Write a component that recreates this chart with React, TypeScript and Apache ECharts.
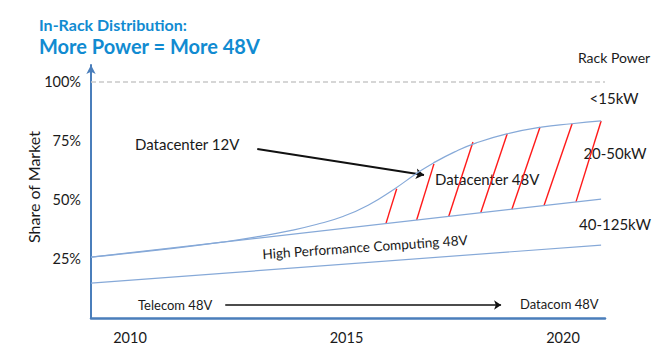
import React, { useEffect, useRef } from "react";
import * as echarts from "echarts";

// Boundary between Datacenter 12V and Datacenter 48V (share of market, %)
const topYears = [2009.1, 2011.0, 2012.2, 2013.0, 2013.7, 2014.3, 2014.9, 2015.5, 2016.1, 2016.6, 2017.0, 2017.5, 2018.0, 2018.7, 2019.5, 2020.2, 2020.88];
const topValues = [25.8, 29.5, 32.3, 34.6, 37.0, 39.6, 42.9, 47.8, 54.6, 61.0, 65.6, 70.4, 74.2, 78.0, 80.9, 82.3, 83.5];
// Boundary between Datacenter 48V and High Performance Computing 48V
const midYears = [2009.1, 2020.88];
const midValues = [25.8, 50.4];
// Boundary between HPC 48V and Telecom / Datacom 48V
const lowYears = [2009.1, 2020.88];
const lowValues = [14.8, 30.9];
// Red hatching of the Datacenter 48V band
const hatchBottomYears = [2015.91, 2016.62, 2017.36, 2018.1, 2018.82, 2019.56, 2020.3];
const hatchBottomValues = [40.0, 41.5, 43.0, 44.6, 46.1, 47.6, 49.2];
const hatchTopYears = [2016.16, 2017.02, 2017.92, 2018.71, 2019.47, 2020.21, 2020.88];
const hatchTopValues = [54.8, 65.3, 74.6, 78.0, 80.9, 82.3, 83.5];
// Arrows
const arrow12V = [[2012.94, 71.6], [2016.79, 60.6]];
const arrowTelecom = [[2012.2, 5.5], [2018.57, 5.5]];
// Axis labels
const xLabelYears = [2010, 2015, 2020];
const yTicks = [25, 50, 75, 100];

const FONT = "Lato";
const TEXT = "#1a1a1a";
const BLUE_TITLE = "#118bd1";

export default function App() {
  const ref = useRef<HTMLDivElement>(null);
  useEffect(() => {
    if (!ref.current) return;
    const chart = echarts.init(ref.current, undefined, { renderer: "svg" });
    const zip = (a: number[], b: number[]) => a.map((v, i) => [v, b[i]]);
    const curveStyle = { color: "#86a9d8", width: 1.2 };
    const txt = (text: string, x: number, y: number, size: number, extra: any = {}) => ({
      type: "text",
      x,
      y,
      style: {
        text,
        fontFamily: FONT,
        fontSize: size,
        fill: TEXT,
        textVerticalAlign: "middle",
        verticalAlign: "middle",
        ...extra.style,
      },
      ...extra.el,
    });
    chart.setOption({
      animation: false,
      grid: { left: 91, right: 61, top: 65, bottom: 34 },
      xAxis: {
        type: "value",
        min: 2009.1,
        max: 2020.97,
        axisLine: { show: true, lineStyle: { color: "#4a7ebb", width: 2.5 } },
        axisTick: { show: false },
        splitLine: { show: false },
        axisLabel: {
          customValues: xLabelYears,
          formatter: (v: number) => String(v),
          fontFamily: FONT,
          fontSize: 14.5,
          color: TEXT,
          margin: 12,
        },
      },
      yAxis: {
        type: "value",
        min: 0,
        max: 107.2,
        interval: 25,
        axisLine: {
          show: true,
          symbol: ["none", "arrow"],
          symbolSize: [7, 9],
          lineStyle: { color: "#4a7ebb", width: 2 },
        },
        axisTick: { show: false },
        splitLine: { show: false },
        axisLabel: {
          formatter: (v: number) => (yTicks.includes(v) ? v + "%" : ""),
          fontFamily: FONT,
          fontSize: 14.5,
          color: TEXT,
          margin: 10,
        },
      },
      series: [
        {
          type: "line",
          data: zip(topYears, topValues),
          smooth: 0.5,
          showSymbol: false,
          lineStyle: curveStyle,
          markLine: {
            silent: true,
            symbol: ["none", "none"],
            label: { show: false },
            lineStyle: { color: "#c9c9c9", type: [5, 3], width: 1.5 },
            data: [{ yAxis: 100 }],
          },
        },
        { type: "line", data: zip(midYears, midValues), showSymbol: false, lineStyle: curveStyle },
        { type: "line", data: zip(lowYears, lowValues), showSymbol: false, lineStyle: curveStyle },
        {
          type: "lines",
          coordinateSystem: "cartesian2d",
          symbol: ["none", "none"],
          lineStyle: { color: "#ff1a1a", width: 1.4, opacity: 1 },
          data: hatchBottomYears.map((y, i) => ({
            coords: [
              [y, hatchBottomValues[i]],
              [hatchTopYears[i], hatchTopValues[i]],
            ],
          })),
        },
        {
          type: "lines",
          coordinateSystem: "cartesian2d",
          symbol: ["none", "arrow"],
          symbolSize: 8,
          lineStyle: { color: "#111", width: 2, opacity: 1 },
          data: [{ coords: arrow12V }],
        },
        {
          type: "lines",
          coordinateSystem: "cartesian2d",
          symbol: ["none", "arrow"],
          symbolSize: 7,
          lineStyle: { color: "#111", width: 1.5, opacity: 1 },
          data: [{ coords: arrowTelecom }],
        },
      ],
      graphic: [
        txt("In-Rack Distribution:", 39, 24, 16, { style: { fill: BLUE_TITLE, fontWeight: "bold" } }),
        txt("More Power = More 48V", 39, 46, 20, { style: { fill: BLUE_TITLE, fontWeight: "bold" } }),
        txt("Rack Power", 614, 57, 14, { style: { align: "center", textAlign: "center" } }),
        txt("<15kW", 614, 98, 15, { style: { align: "center", textAlign: "center" } }),
        txt("20-50kW", 615, 153, 15, { style: { align: "center", textAlign: "center" } }),
        txt("40-125kW", 615, 224, 15, { style: { align: "center", textAlign: "center" } }),
        txt("Datacenter 12V", 135, 144, 15),
        txt("Datacenter 48V", 435, 179, 15),
        txt("High Performance Computing 48V", 365, 247, 13.6, {
          style: { align: "center", textAlign: "center" },
          el: { rotation: (4 * Math.PI) / 180 },
        }),
        txt("Telecom 48V", 138, 305, 13),
        txt("Datacom 48V", 520, 304, 13),
        txt("Share of Market", 33, 187, 16, {
          style: { align: "center", textAlign: "center" },
          el: { rotation: Math.PI / 2 },
        }),
      ],
    });
    return () => chart.dispose();
  }, []);
  return (
    <div
      ref={ref}
      style={{ position: "fixed", left: 0, top: 0, width: 666, height: 352, background: "#fff" }}
    />
  );
}
